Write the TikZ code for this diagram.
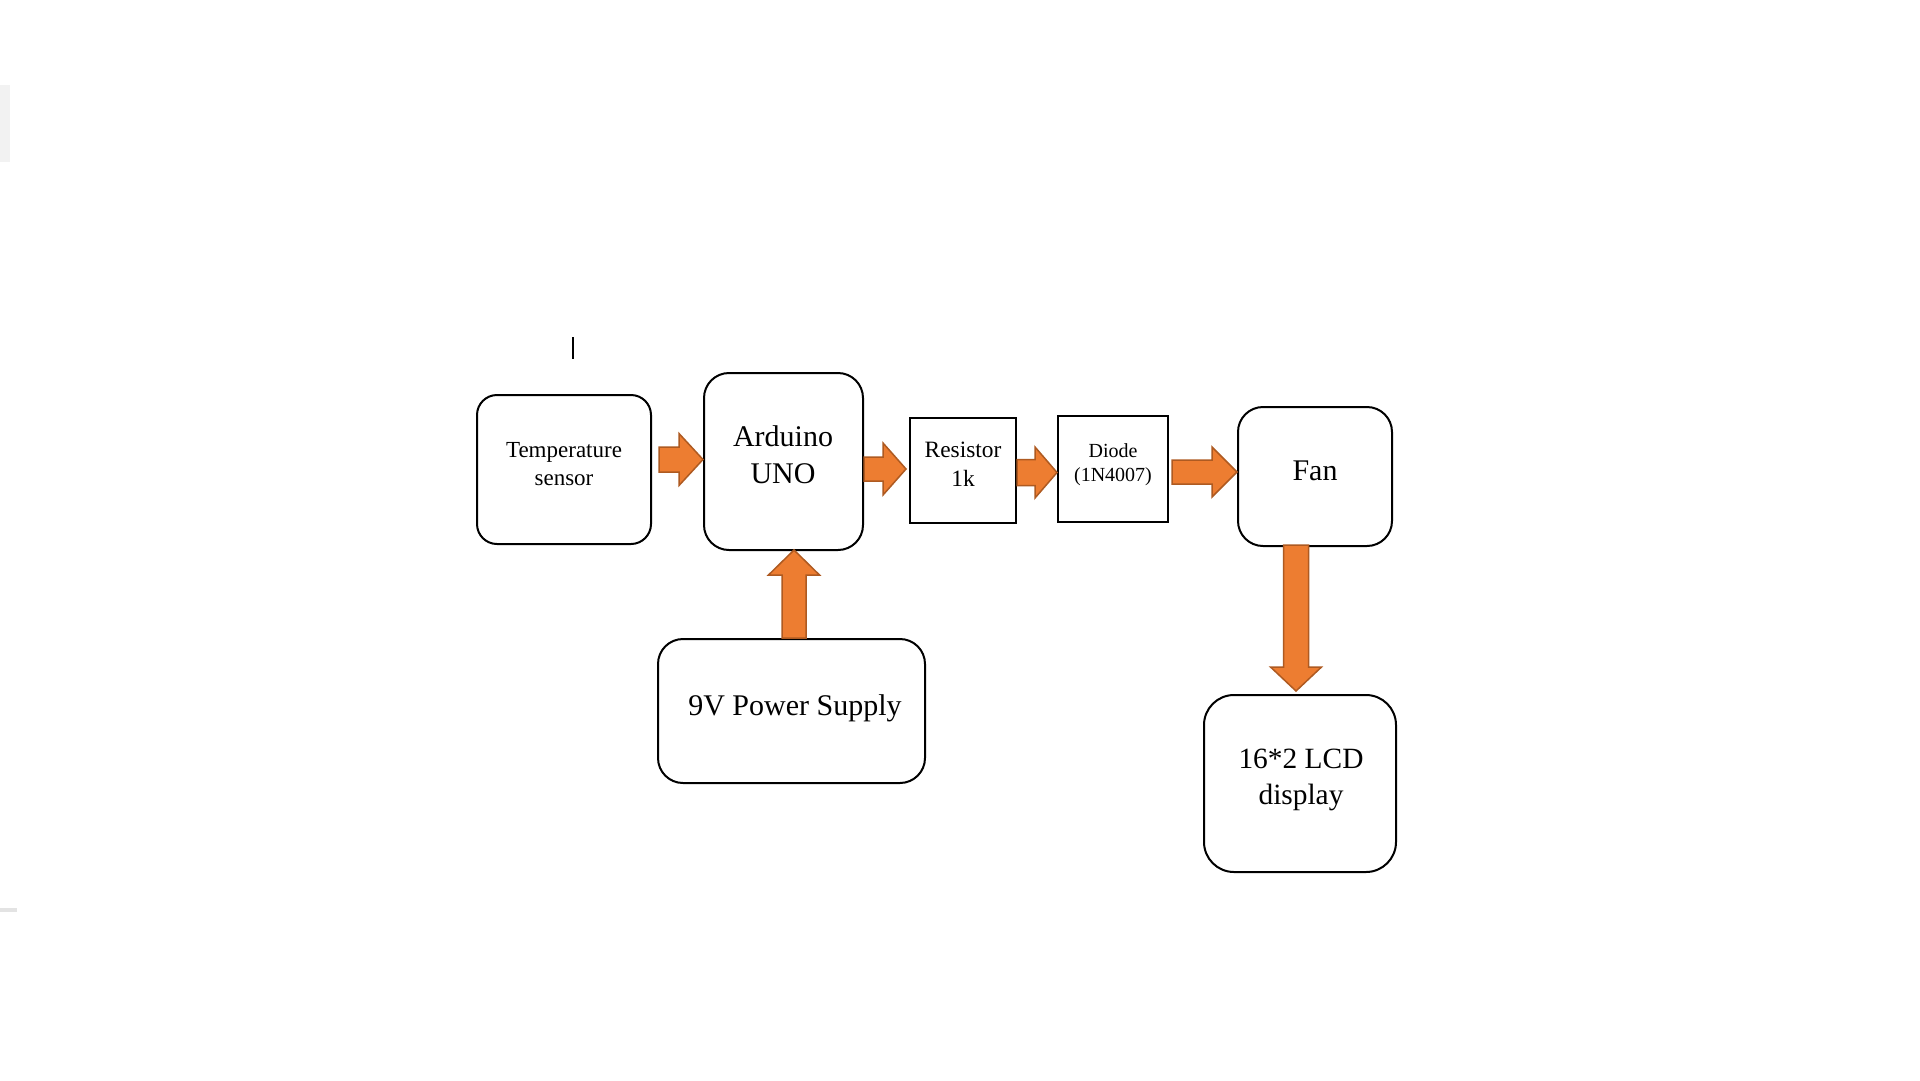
\documentclass[tikz,border=0pt]{standalone}
\usepackage{fontspec}
\setmainfont{Liberation Serif}
\usetikzlibrary{calc}
\definecolor{arrfill}{HTML}{ED7D31}
\definecolor{arrline}{HTML}{AE5A21}
\definecolor{noisea}{HTML}{F2F2F2}
\definecolor{noiseb}{HTML}{E3E3E3}
% block arrow: start, end, shaft half width, head half width, head length
\newcommand\blockarrow[5]{%
  \coordinate (hb) at ($(#2)!#5!(#1)$);
  \draw[barrow] ($(#1)!#3!90:(#2)$) -- ($(hb)!#3!90:(#2)$) -- ($(hb)!#4!90:(#2)$)
    -- (#2) -- ($(hb)!#4!-90:(#2)$) -- ($(hb)!#3!-90:(#2)$) -- ($(#1)!#3!-90:(#2)$) -- cycle;
}
\tikzset{
  rbox/.style={draw, line width=2pt, rounded corners=#1, inner sep=0pt},
  sbox/.style={draw, line width=2pt, inner sep=0pt},
  lbl/.style={align=center, anchor=base, inner sep=0pt},
  barrow/.style={fill=arrfill, draw=arrline, line width=1.5pt, line join=miter},
  big/.style={font=\fontsize{30}{37}\selectfont},
}
\begin{document}
\begin{tikzpicture}[x=1pt,y=-1pt]
\useasboundingbox (0,0) rectangle (1920,1080);
\fill[white] (0,0) rectangle (1920,1080);
% screen residue
\fill[noisea] (0,85) rectangle (10,162);
\fill[noiseb] (0,908) rectangle (17,912);
\draw[line width=1.2pt] (573,337) -- (573,359);

% boxes
\node[rbox=20pt, minimum width=174pt, minimum height=149pt] (temp) at (564,469.5) {};
\node[rbox=25pt, minimum width=159pt, minimum height=177pt] (ard) at (783.5,461.5) {};
\node[sbox, minimum width=106pt, minimum height=105pt] (res) at (963,470.5) {};
\node[sbox, minimum width=110pt, minimum height=106pt] (dio) at (1113,469) {};
\node[rbox=25pt, minimum width=154pt, minimum height=139pt] (fan) at (1315,476.5) {};
\node[rbox=25pt, minimum width=267pt, minimum height=144pt] (psu) at (791.5,711) {};
\node[rbox=30pt, minimum width=192pt, minimum height=177pt] (lcd) at (1300,783.5) {};

% texts (base anchor = baseline of the last line)
\node[lbl, font=\fontsize{23}{28}\selectfont] (temp-t) at (564,485) {Temperature\\sensor};
\node[lbl, big] (ard-t) at (783,483) {Arduino\\UNO};
\node[lbl, font=\fontsize{23.4}{29}\selectfont] (res-t) at (963,486) {Resistor\\1k};
\node[lbl, font=\fontsize{20}{24}\selectfont] (dio-t) at (1113,481) {Diode\\(1N4007)};
\node[lbl, big] (fan-t) at (1315,480) {Fan};
\node[lbl, big] (psu-t) at (795,715) {9V Power Supply};
\node[lbl, font=\fontsize{29.4}{36}\selectfont] (lcd-t) at (1301,804) {16*2 LCD\\display};

% arrow end points
\coordinate (a1s) at ($(temp.east |- 0,459.5)+(7,0)$);
\coordinate (a1e) at (ard.west |- 0,459.5);
\coordinate (a2s) at (ard.east |- 0,469);
\coordinate (a2e) at ($(res.west |- 0,469)+(-3,0)$);
\coordinate (a3s) at (res.east |- 0,472.5);
\coordinate (a3e) at (dio.west |- 0,472.5);
\coordinate (a4s) at ($(dio.east |- 0,472)+(3,0)$);
\coordinate (a4e) at (fan.west |- 0,472);
\coordinate (a5s) at (794,0 |- psu.north);
\coordinate (a5e) at ($(794,0 |- ard.south)+(0,-1)$);
\coordinate (a6s) at ($(1296,0 |- fan.south)+(0,-2)$);
\coordinate (a6e) at ($(1296,0 |- lcd.north)+(0,-3)$);

% arrows
\blockarrow{a1s}{a1e}{12.5pt}{26pt}{24pt}
\blockarrow{a2s}{a2e}{12pt}{26pt}{23pt}
\blockarrow{a3s}{a3e}{13pt}{25.5pt}{22pt}
\blockarrow{a4s}{a4e}{12pt}{25pt}{25pt}
\blockarrow{a5s}{a5e}{12pt}{25.5pt}{25pt}
\blockarrow{a6s}{a6e}{12.5pt}{25.5pt}{24pt}
\end{tikzpicture}
\end{document}
